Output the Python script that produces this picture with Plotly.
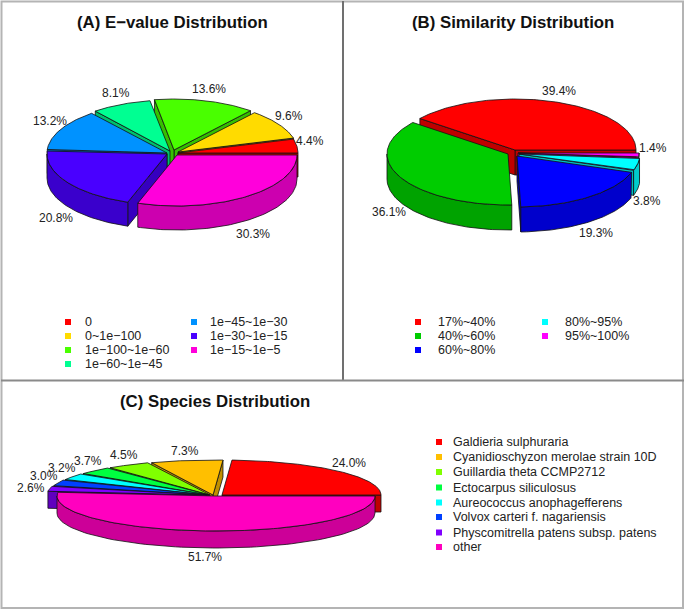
import numpy as np
import plotly.graph_objects as go

# ---------- data ----------
evalue_labels = ["0", "0~1e\u2212100", "1e\u2212100~1e\u221260", "1e\u221260~1e\u221245",
                 "1e\u221245~1e\u221230", "1e\u221230~1e\u221215", "1e\u221215~1e\u22125"]
evalue_values = [4.4, 9.6, 13.6, 8.1, 13.2, 20.8, 30.3]

similarity_labels = ["17%~40%", "40%~60%", "60%~80%", "80%~95%", "95%~100%"]
similarity_values = [39.4, 36.1, 19.3, 3.8, 1.4]

species_labels = ["Galdieria sulphuraria", "Cyanidioschyzon merolae strain 10D",
                  "Guillardia theta CCMP2712", "Ectocarpus siliculosus",
                  "Aureococcus anophagefferens", "Volvox carteri f. nagariensis",
                  "Physcomitrella patens subsp. patens", "other"]
species_values = [24.0, 7.3, 4.5, 3.7, 3.2, 3.0, 2.6, 51.7]

# ---------- styles ----------
evalue_colors = ["#FF0000", "#FFDB00", "#49FF00", "#00FF92", "#0092FF", "#4900FF", "#FF00DB"]
similarity_colors = ["#FF0000", "#00CC00", "#0000FF", "#00FFFF", "#FF00FF"]
species_colors = ["#FF0000", "#FFBF00", "#80FF00", "#00FF40", "#00FFFF", "#0040FF", "#8000FF", "#FF00BF"]

FONT = "Liberation Sans"
TEXT = "#222222"

panels = [
    dict(title="(A) E\u2212value Distribution", title_xy=(172, 22),
         values=evalue_values, colors=evalue_colors, names=evalue_labels,
         rx=120, ry=51, h=24,
         apex=[(178, 153), (178, 152), (174, 150), (170, 151), (167, 153), (167, 154), (177, 155)],
         lab=[(310, 141), (289, 116), (209, 89), (116, 93), (50, 121), (56, 218), (253, 234)],
         legend=[(68, 83, y) for y in (322, 336, 350, 364)] + [(194, 208, y) for y in (322, 336, 350)]),
    dict(title="(B) Similarity Distribution", title_xy=(513, 22),
         values=similarity_values, colors=similarity_colors, names=similarity_labels,
         rx=121, ry=51, h=25,
         apex=[(515, 150), (508, 154), (517, 156), (519, 154), (518, 153)],
         lab=[(559, 91), (389, 212), (596, 233), (647, 201), (653, 148)],
         legend=[(418, 436, y) for y in (322, 336, 350)] + [(545, 563, y) for y in (322, 336)]),
    dict(title="(C) Species Distribution", title_xy=(215, 401),
         values=species_values, colors=species_colors, names=species_labels,
         rx=159, ry=35, h=17,
         apex=[(222, 495), (213, 495), (210, 495), (209, 495), (208, 495), (207, 495), (206, 495), (216, 496)],
         lab=[(349, 463), (185, 451), (124, 455), (88, 461), (62, 468), (44, 476), (31, 488), (205, 557)],
         legend=[(439, 451, y) for y in (442, 457, 472, 487.5, 502.5, 517, 532.5, 547)]),
]


def shade(hex_color, k):
    r, g, b = (int(hex_color[i:i + 2], 16) for i in (1, 3, 5))
    return f"rgb({int(r * k)},{int(g * k)},{int(b * k)})"


def polygon(fig, xs, ys, fill):
    fig.add_trace(go.Scatter(x=np.r_[xs, xs[0]], y=np.r_[ys, ys[0]], mode="lines", fill="toself",
                             fillcolor=fill, line=dict(color="#111111", width=0.8),
                             hoverinfo="skip", showlegend=False))


def wedge(fig, a0, a1, apex, rx, ry, h, color):
    ax, ay = apex
    side = shade(color, 0.8)
    # visible radial faces
    for ang, show in ((a0, np.cos(a0) > 0), (a1, np.cos(a1) < 0)):
        if show:
            ex, ey = ax + rx * np.cos(ang), ay - ry * np.sin(ang)
            polygon(fig, np.array([ax, ex, ex, ax]), np.array([ay, ey, ey + h, ay + h]), shade(color, 0.75))
    # visible outer rim (front half only)
    lo, hi = max(a0, np.pi), min(a1, 2 * np.pi)
    if hi > lo:
        t = np.linspace(lo, hi, 80)
        x, y = ax + rx * np.cos(t), ay - ry * np.sin(t)
        polygon(fig, np.r_[x, x[::-1]], np.r_[y, y[::-1] + h], side)
    # top
    t = np.linspace(a0, a1, 120)
    polygon(fig, np.r_[ax, ax + rx * np.cos(t)], np.r_[ay, ay - ry * np.sin(t)], color)


fig = go.Figure()
ann = []
for p in panels:
    vals = np.array(p["values"], dtype=float)
    edges = np.r_[0, np.cumsum(vals)] / vals.sum() * 2 * np.pi
    mids = (edges[:-1] + edges[1:]) / 2
    for i in np.argsort(-np.sin(mids)):
        wedge(fig, edges[i], edges[i + 1], p["apex"][i], p["rx"], p["ry"], p["h"], p["colors"][i])
    # percentages
    for v, (x, y) in zip(p["values"], p["lab"]):
        ann.append(dict(x=x, y=y, text=f"{v:.1f}%", showarrow=False, xanchor="center", yanchor="middle",
                        font=dict(family=FONT, size=12, color=TEXT)))
    # title
    ann.append(dict(x=p["title_xy"][0], y=p["title_xy"][1], text=f"<b>{p['title']}</b>", showarrow=False,
                    xanchor="center", yanchor="middle", font=dict(family=FONT, size=16.8, color="#111111")))
    # legend
    for name, col, (mx, tx, y) in zip(p["names"], p["colors"], p["legend"]):
        fig.add_trace(go.Scatter(x=[mx], y=[y], mode="markers", hoverinfo="skip", showlegend=False,
                                 marker=dict(symbol="square", size=6, color=col, line=dict(width=0))))
        ann.append(dict(x=tx, y=y, text=name, showarrow=False, xanchor="left", yanchor="middle",
                        font=dict(family=FONT, size=12.5, color=TEXT)))

frame = [
    dict(type="rect", x0=1.5, y0=1.5, x1=683, y1=608, line=dict(color="#b4b4b4", width=2)),
    dict(type="line", x0=343, y0=1, x1=343, y1=380, line=dict(color="#707070", width=2)),
    dict(type="line", x0=1, y0=380.5, x1=684, y1=380.5, line=dict(color="#8a8a8a", width=2)),
]

fig.update_layout(
    width=685, height=610, margin=dict(l=0, r=0, t=0, b=0, pad=0),
    paper_bgcolor="white", plot_bgcolor="white", showlegend=False,
    xaxis=dict(range=[0, 685], visible=False, fixedrange=True),
    yaxis=dict(range=[610, 0], visible=False, fixedrange=True),
    shapes=frame, annotations=ann,
)
fig.write_html("out.html", config=dict(displayModeBar=False),
               post_script="document.body.style.margin='0';document.body.style.overflow='hidden';")
